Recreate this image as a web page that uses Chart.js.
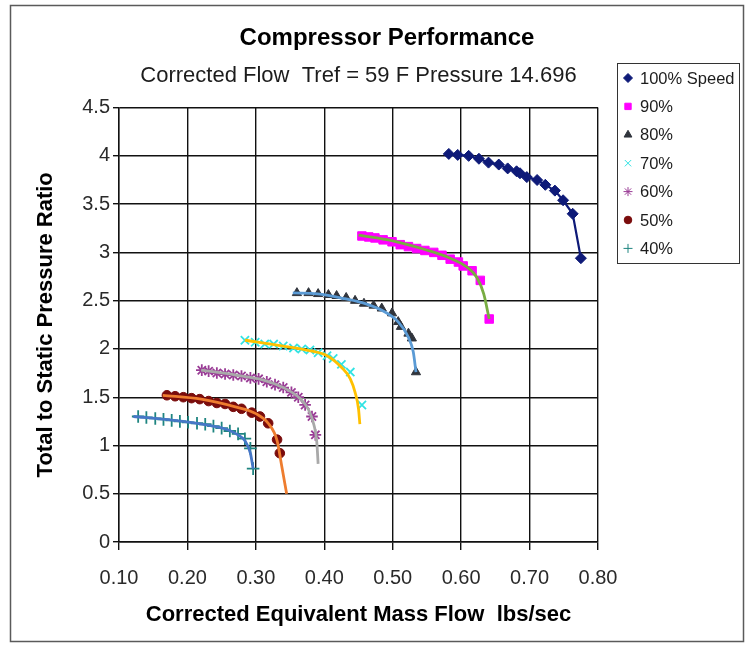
<!DOCTYPE html>
<html>
<head>
<meta charset="utf-8">
<title>Compressor Performance</title>
<script src="https://cdn.jsdelivr.net/npm/chart.js@4.4.1/dist/chart.umd.min.js"></script>
<style>
  body { margin: 0; background: #fff; }
  #wrap { width: 750px; height: 653px; position: relative; }
</style>
</head>
<body>
<div id="wrap"><canvas id="perfChart"></canvas></div>
<script>
// axis ticks
const xTickValues = [0.1, 0.2, 0.3, 0.4, 0.5, 0.6, 0.7, 0.8];
const xTickLabels = ['0.10', '0.20', '0.30', '0.40', '0.50', '0.60', '0.70', '0.80'];
const yTickValues = [0, 0.5, 1, 1.5, 2, 2.5, 3, 3.5, 4, 4.5];
const yTickLabels = ['0', '0.5', '1', '1.5', '2', '2.5', '3', '3.5', '4', '4.5'];

// measured points [corrected flow, pressure ratio] per speed line
const speed100 = [[0.582, 4.02], [0.595, 4.01], [0.611, 4.00], [0.626, 3.97], [0.640, 3.93], [0.655, 3.91],
  [0.668, 3.87], [0.681, 3.84], [0.686, 3.82], [0.696, 3.78], [0.711, 3.75], [0.723, 3.70], [0.737, 3.64],
  [0.749, 3.54], [0.763, 3.40], [0.775, 2.94]];
const speed90 = [[0.455, 3.17], [0.465, 3.16], [0.474, 3.15], [0.486, 3.13], [0.499, 3.11], [0.511, 3.08],
  [0.523, 3.06], [0.535, 3.04], [0.547, 3.02], [0.560, 3.00], [0.572, 2.97], [0.584, 2.93], [0.596, 2.90],
  [0.603, 2.86], [0.616, 2.81], [0.628, 2.71], [0.641, 2.31]];
const speed80 = [[0.360, 2.58], [0.377, 2.58], [0.391, 2.57], [0.406, 2.56], [0.418, 2.55], [0.432, 2.53],
  [0.445, 2.50], [0.458, 2.47], [0.472, 2.45], [0.484, 2.42], [0.499, 2.37], [0.508, 2.28], [0.512, 2.23],
  [0.523, 2.16], [0.528, 2.11], [0.534, 1.76]];
const speed70 = [[0.284, 2.09], [0.299, 2.07], [0.313, 2.05], [0.326, 2.05], [0.340, 2.03], [0.355, 2.01],
  [0.367, 2.00], [0.379, 1.99], [0.391, 1.96], [0.404, 1.93], [0.413, 1.90], [0.425, 1.84], [0.438, 1.76],
  [0.455, 1.42]];
const speed60 = [[0.221, 1.78], [0.231, 1.77], [0.243, 1.75], [0.255, 1.74], [0.267, 1.73], [0.279, 1.72],
  [0.292, 1.70], [0.304, 1.69], [0.316, 1.66], [0.328, 1.63], [0.340, 1.60], [0.352, 1.55], [0.362, 1.50],
  [0.372, 1.42], [0.382, 1.30], [0.387, 1.11]];
const speed50 = [[0.170, 1.52], [0.182, 1.51], [0.194, 1.50], [0.206, 1.49], [0.218, 1.48], [0.231, 1.46],
  [0.243, 1.44], [0.255, 1.43], [0.267, 1.40], [0.279, 1.38], [0.294, 1.34], [0.306, 1.30], [0.318, 1.23],
  [0.331, 1.06], [0.335, 0.92]];
const speed40 = [[0.128, 1.30], [0.140, 1.29], [0.153, 1.28], [0.165, 1.27], [0.177, 1.26], [0.189, 1.25],
  [0.201, 1.24], [0.214, 1.23], [0.226, 1.22], [0.238, 1.20], [0.250, 1.18], [0.262, 1.15], [0.274, 1.12],
  [0.284, 1.07], [0.292, 0.97], [0.296, 0.76]];

// fitted curves through each speed line
const fit90 = [[0.450, 3.18], [0.500, 3.12], [0.547, 3.03], [0.584, 2.94], [0.608, 2.85], [0.623, 2.74], [0.633, 2.57], [0.641, 2.31]];
const fit80 = [[0.354, 2.58], [0.390, 2.57], [0.430, 2.52], [0.460, 2.47], [0.484, 2.40], [0.508, 2.28], [0.523, 2.12], [0.530, 1.97], [0.534, 1.76]];
const fit70 = [[0.284, 2.09], [0.340, 2.03], [0.380, 1.98], [0.404, 1.93], [0.425, 1.81], [0.438, 1.69], [0.445, 1.55], [0.450, 1.38], [0.452, 1.22]];
const fit60 = [[0.220, 1.78], [0.270, 1.73], [0.310, 1.68], [0.340, 1.60], [0.364, 1.49], [0.377, 1.37], [0.385, 1.21], [0.389, 1.04], [0.391, 0.81]];
const fit50 = [[0.164, 1.52], [0.220, 1.48], [0.270, 1.40], [0.300, 1.33], [0.318, 1.23], [0.331, 1.05], [0.338, 0.78], [0.345, 0.50]];
const fit40 = [[0.121, 1.30], [0.180, 1.26], [0.230, 1.21], [0.260, 1.16], [0.276, 1.10], [0.284, 1.05], [0.292, 0.92], [0.296, 0.76]];

const FONT = '"Liberation Sans", Arial, Helvetica, sans-serif';

const series = [
  { label: '100% Speed', points: speed100, style: 'rectRot', color: '#0e1a78', radius: 5.5, joined: true },
  { label: '90%', points: speed90, style: 'rect', color: '#ff00ff', radius: 6, fit: fit90, fitColor: '#78ad42' },
  { label: '80%', points: speed80, style: 'triangle', color: '#30343c', radius: 5.3, fit: fit80, fitColor: '#5b9bd5' },
  { label: '70%', points: speed70, style: 'crossRot', color: '#30e3e3', radius: 5.8, fit: fit70, fitColor: '#ffc000' },
  { label: '60%', points: speed60, style: 'star', color: '#9a3c96', radius: 5.8, fit: fit60, fitColor: '#a9a9a9' },
  { label: '50%', points: speed50, style: 'circle', color: '#7a0c0c', radius: 4.8, fit: fit50, fitColor: '#ee7d2f' },
  { label: '40%', points: speed40, style: 'cross', color: '#1e8580', radius: 6.3, fit: fit40, fitColor: '#4677c6' }
];

const toXY = pts => pts.map(([x, y]) => ({ x, y }));

const datasets = [];
series.forEach(s => {
  const open = ['cross', 'crossRot', 'star'].includes(s.style);
  datasets.push({
    label: s.label,
    data: toXY(s.points),
    pointStyle: s.style,
    pointRadius: s.radius,
    pointHoverRadius: s.radius,
    pointBorderWidth: open ? 1.8 : 1,
    backgroundColor: s.color,
    borderColor: s.color,
    showLine: !!s.joined,
    borderWidth: 2.2,
    tension: 0,
    order: 2
  });
  if (s.fit) {
    datasets.push({
      label: s.label + ' fit',
      isFit: true,
      data: toXY(s.fit),
      showLine: true,
      pointRadius: 0,
      borderColor: s.fitColor,
      borderWidth: 2.8,
      cubicInterpolationMode: 'monotone',
      order: 1
    });
  }
});

// outer frame of the chart
const chartFrame = {
  id: 'chartFrame',
  beforeDraw(chart) {
    const ctx = chart.ctx;
    ctx.save();
    ctx.fillStyle = '#fff';
    ctx.fillRect(0, 0, chart.width, chart.height);
    ctx.strokeStyle = '#5a5a5a';
    ctx.lineWidth = 1.5;
    ctx.strokeRect(10.5, 5.5, 733, 636);
    ctx.restore();
  }
};

// boxed legend, markers only
const legendBox = {
  id: 'legendBox',
  afterDraw(chart, args, opts) {
    const ctx = chart.ctx;
    ctx.save();
    ctx.strokeStyle = '#333';
    ctx.lineWidth = 1;
    ctx.strokeRect(opts.left + 0.5, opts.top + 0.5, opts.width, opts.height);
    ctx.font = '16.5px ' + FONT;
    ctx.textBaseline = 'middle';
    series.forEach((s, i) => {
      const y = opts.top + 15 + i * opts.rowHeight;
      const open = ['cross', 'crossRot', 'star'].includes(s.style);
      ctx.fillStyle = s.color;
      ctx.strokeStyle = s.color;
      Chart.helpers.drawPoint(ctx, {
        pointStyle: s.style,
        radius: s.style === 'circle' ? 3.8 : 4.5,
        rotation: 0,
        borderWidth: open ? 1.3 : 1
      }, opts.left + 11, y);
      ctx.fillStyle = '#1c1c1c';
      ctx.fillText(s.label, opts.left + 23, y + 1);
    });
    ctx.restore();
  }
};

Chart.defaults.font.family = FONT;
Chart.defaults.color = '#1c1c1c';

new Chart(document.getElementById('perfChart'), {
  type: 'scatter',
  data: { datasets },
  plugins: [chartFrame, legendBox],
  options: {
    responsive: true,
    maintainAspectRatio: false,
    animation: false,
    layout: { padding: { left: 24, right: 0, top: 10, bottom: 10 } },
    plugins: {
      legend: { display: false },
      tooltip: { enabled: false },
      title: {
        display: true,
        text: 'Compressor Performance',
        color: '#000',
        font: { size: 24, weight: 'bold' },
        padding: { top: 13.6, bottom: 10 }
      },
      subtitle: {
        display: true,
        fullSize: false,
        text: 'Corrected Flow  Tref = 59 F Pressure 14.696',
        color: '#1c1c1c',
        font: { size: 22 },
        padding: { top: 0, bottom: 18.8 }
      },
      legendBox: { left: 617, top: 63, width: 122, height: 200, rowHeight: 28.4 }
    },
    scales: {
      x: {
        type: 'linear',
        min: 0.1,
        max: 0.8,
        afterBuildTicks: scale => { scale.ticks = xTickValues.map(v => ({ value: v })); },
        afterFit: scale => { scale.height = 101; },
        ticks: {
          autoSkip: false,
          maxRotation: 0,
          padding: 16,
          font: { size: 20 },
          color: '#2a2a2a',
          callback: (v, i) => xTickLabels[i]
        },
        grid: { color: '#111', lineWidth: 1.4, tickLength: 8 },
        border: { color: '#111', width: 1.4 },
        title: {
          display: true,
          text: 'Corrected Equivalent Mass Flow  lbs/sec',
          color: '#000',
          font: { size: 22, weight: 'bold' },
          padding: { top: 0, bottom: 15 }
        }
      },
      y: {
        type: 'linear',
        min: 0,
        max: 4.5,
        afterBuildTicks: scale => { scale.ticks = yTickValues.map(v => ({ value: v })); },
        afterFit: scale => { scale.width = 95; },
        ticks: {
          autoSkip: false,
          padding: 3,
          font: { size: 20 },
          color: '#2a2a2a',
          callback: (v, i) => yTickLabels[i]
        },
        grid: { color: '#111', lineWidth: 1.4, tickLength: 6 },
        border: { color: '#111', width: 1.4 },
        title: {
          display: true,
          text: 'Total to Static Pressure Ratio',
          color: '#000',
          font: { size: 22, weight: 'bold' },
          padding: { top: 9, bottom: 0 }
        }
      },
      // keeps room on the right for the legend box
      spacer: {
        type: 'linear',
        position: 'right',
        display: true,
        afterFit: scale => { scale.width = 152; },
        ticks: { display: false },
        grid: { display: false, drawTicks: false },
        border: { display: false }
      }
    }
  }
});
</script>
</body>
</html>
